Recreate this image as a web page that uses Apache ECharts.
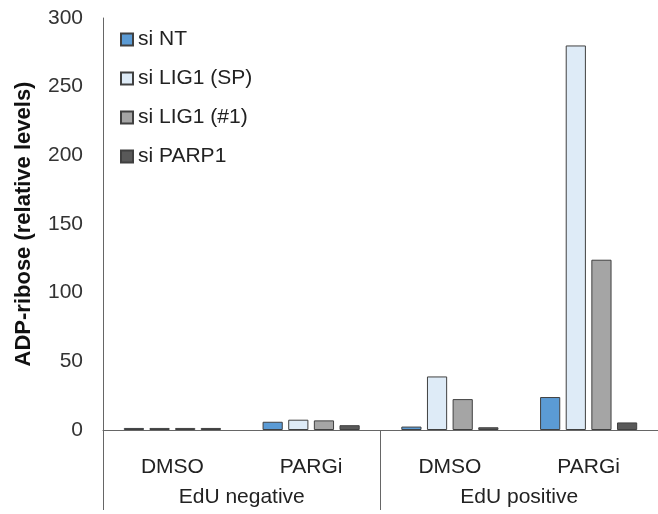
<!DOCTYPE html>
<html>
<head>
<meta charset="utf-8">
<script src="https://cdn.jsdelivr.net/npm/echarts@6/dist/echarts.min.js"></script>
<style>
html,body{margin:0;padding:0;background:#fff;}
#chart{width:658px;height:514px;}
</style>
</head>
<body>
<div id="chart"></div>
<script>
const treatments = ['DMSO', 'PARGi', 'DMSO ', 'PARGi '];
const groups = ['EdU negative', 'EdU positive'];
const seriesNames = ['si NT', 'si LIG1 (SP)', 'si LIG1 (#1)', 'si PARP1'];
const siNT = [1.5, 6, 2.5, 24];
const siLIG1SP = [1.5, 7.5, 39, 280];
const siLIG1n1 = [1.5, 7, 22.5, 124];
const siPARP1 = [1.5, 3.5, 2, 5.5];
const yTicks = [0, 50, 100, 150, 200, 250, 300];
const colors = ['#5B9BD5', '#DEEBF7', '#A5A5A5', '#595959'];

const values = [siNT, siLIG1SP, siLIG1n1, siPARP1];
const chart = echarts.init(document.getElementById('chart'));
const font = '"Liberation Sans", Arial, sans-serif';
chart.setOption({
  animation: false,
  textStyle: { fontFamily: font },
  grid: { left: 103, right: 0, top: 18, bottom: 84 },
  legend: {
    orient: 'vertical', left: 120, top: 29, padding: 0,
    itemWidth: 12, itemHeight: 12, itemGap: 18, icon: 'rect',
    textStyle: { fontSize: 21, color: '#222', fontFamily: font, lineHeight: 21 },
    data: seriesNames
  },
  xAxis: [
    {
      type: 'category', data: treatments, position: 'bottom',
      axisLine: { lineStyle: { color: '#666', width: 1 } },
      axisTick: { show: false },
      axisLabel: { fontSize: 21, color: '#222', margin: 27, fontFamily: font,
        formatter: v => v.trim() }
    },
    {
      type: 'category', data: groups, position: 'bottom', gridIndex: 0,
      axisLine: { show: false },
      axisTick: { show: true, length: 80, inside: false, lineStyle: { color: '#666' } },
      axisLabel: { fontSize: 21, color: '#222', margin: 57, fontFamily: font }
    }
  ],
  yAxis: {
    type: 'value', min: yTicks[0], max: yTicks[yTicks.length - 1], interval: yTicks[1] - yTicks[0],
    name: 'ADP-ribose (relative levels)', nameLocation: 'middle', nameGap: 68,
    nameTextStyle: { fontSize: 22, fontWeight: 'bold', color: '#111', fontFamily: font },
    axisLine: { show: true, lineStyle: { color: '#666' } },
    axisTick: { show: false },
    splitLine: { show: false },
    axisLabel: { fontSize: 21, color: '#333', margin: 20, fontFamily: font }
  },
  series: seriesNames.map((n, i) => ({
    name: n, type: 'bar', xAxisIndex: 0, data: values[i],
    barCategoryGap: '30%', barGap: '27%',
    itemStyle: { color: colors[i], borderColor: '#404040', borderWidth: 1 }
  }))
});
</script>
</body>
</html>
